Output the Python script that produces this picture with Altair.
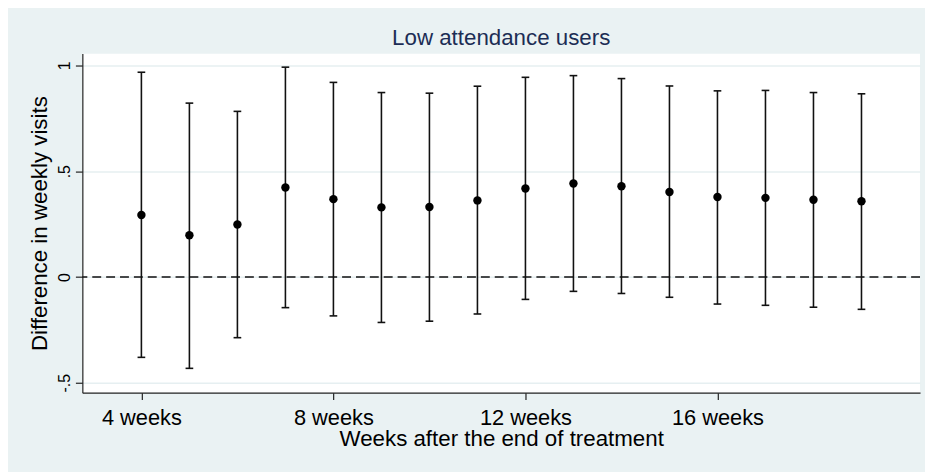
import altair as alt
import pandas as pd

# ---- data ----
weeks = [4, 5, 6, 7, 8, 9, 10, 11, 12, 13, 14, 15, 16, 17, 18, 19]
estimate = [0.293, 0.197, 0.248, 0.423, 0.368, 0.329, 0.331, 0.362,
            0.418, 0.442, 0.429, 0.402, 0.378, 0.374, 0.365, 0.358]
upper = [0.968, 0.822, 0.783, 0.992, 0.920, 0.872, 0.869, 0.902,
         0.944, 0.952, 0.938, 0.903, 0.880, 0.882, 0.872, 0.866]
lower = [-0.380, -0.432, -0.287, -0.145, -0.184, -0.215, -0.209, -0.175,
         -0.106, -0.068, -0.078, -0.096, -0.128, -0.134, -0.143, -0.153]

x_tick_values = [4, 8, 12, 16]
x_tick_labels = ["4 weeks", "8 weeks", "12 weeks", "16 weeks"]
y_tick_values = [-0.5, 0, 0.5, 1]
y_tick_labels = ["-.5", "0", ".5", "1"]
reference_line = [0]

df = pd.DataFrame({"week": weeks, "est": estimate, "hi": upper, "lo": lower})
ref = pd.DataFrame({"y": reference_line})


def label_expr(values, labels):
    expr = "''"
    for v, l in zip(values, labels):
        expr = f"datum.value == {v} ? '{l}' : ({expr})"
    return expr


FONT = "Liberation Sans"
CAP_HALF = 0.08  # half cap width, in weeks

x_scale = alt.Scale(domain=[2.77, 20.22], nice=False, zero=False)
x_enc = alt.X(
    "week:Q",
    scale=x_scale,
    axis=alt.Axis(
        values=x_tick_values,
        labelExpr=label_expr(x_tick_values, x_tick_labels),
        title="Weeks after the end of treatment",
        grid=False,
        labelFontSize=22,
        labelBaseline="alphabetic",
        labelPadding=25,
        labelFlush=False,
        labelOverlap=False,
        tickSize=7,
        titleFontSize=22.5,
        titleFontWeight="normal",
        titleBaseline="alphabetic",
        titleX=422.5,
        titleY=53,
        titleAlign="center",
    ),
)

y_scale = alt.Scale(domain=[-0.547, 1.056], nice=False, zero=False)
y_axis = alt.Axis(
    values=y_tick_values,
    labelExpr=label_expr(y_tick_values, y_tick_labels),
    title="Difference in weekly visits",
    grid=True,
    gridColor="#e6eff1",
    gridWidth=1.5,
    labelFontSize=16,
    labelAngle=270,
    labelAlign="center",
    labelBaseline="alphabetic",
    labelPadding=6,
    labelFlush=False,
    labelOverlap=False,
    tickSize=7,
    titleFontSize=22.5,
    titleFontWeight="normal",
    titleAngle=270,
    titleBaseline="alphabetic",
    titleAlign="center",
    titleX=-36,
    titleY=171,
)

base = alt.Chart(df)

bars = base.mark_rule(color="#111111", strokeWidth=1.6).encode(
    x=x_enc,
    y=alt.Y("lo:Q", scale=y_scale, axis=y_axis),
    y2="hi:Q",
)
caps_base = base.transform_calculate(
    xa=f"datum.week - {CAP_HALF}", xb=f"datum.week + {CAP_HALF}"
)
cap_hi = caps_base.mark_rule(color="#111111", strokeWidth=1.6).encode(
    x=alt.X("xa:Q", scale=x_scale), x2="xb:Q", y=alt.Y("hi:Q", scale=y_scale)
)
cap_lo = caps_base.mark_rule(color="#111111", strokeWidth=1.6).encode(
    x=alt.X("xa:Q", scale=x_scale), x2="xb:Q", y=alt.Y("lo:Q", scale=y_scale)
)
pts = base.mark_circle(color="#000000", size=72, opacity=1).encode(
    x="week:Q", y="est:Q"
)
zero = alt.Chart(ref).mark_rule(color="#111111", strokeDash=[9, 5], strokeWidth=1.5).encode(
    y="y:Q"
)

chart = (
    alt.layer(bars, zero, cap_hi, cap_lo, pts)
    .properties(
        width=845,
        height=342,
        autosize=alt.AutoSizeParams(type="none"),
        padding={"left": 75, "top": 44, "right": 5, "bottom": 78},
        background="#eaf2f3",
        title=alt.TitleParams(
            "Low attendance users",
            fontSize=22.5,
            fontWeight="normal",
            color="#1c2d55",
            font=FONT,
            anchor="middle",
            frame="group",
            baseline="alphabetic",
            offset=1,
            dy=15,
        ),
    )
    .configure_view(fill="white", stroke=None)
    .configure_axis(
        labelFont=FONT,
        titleFont=FONT,
        labelColor="#000000",
        titleColor="#000000",
        domainColor="#222222",
        domainWidth=1.2,
        tickColor="#222222",
        tickWidth=1.2,
    )
)

chart.save("out.html", embed_options={"renderer": "svg", "actions": False})
